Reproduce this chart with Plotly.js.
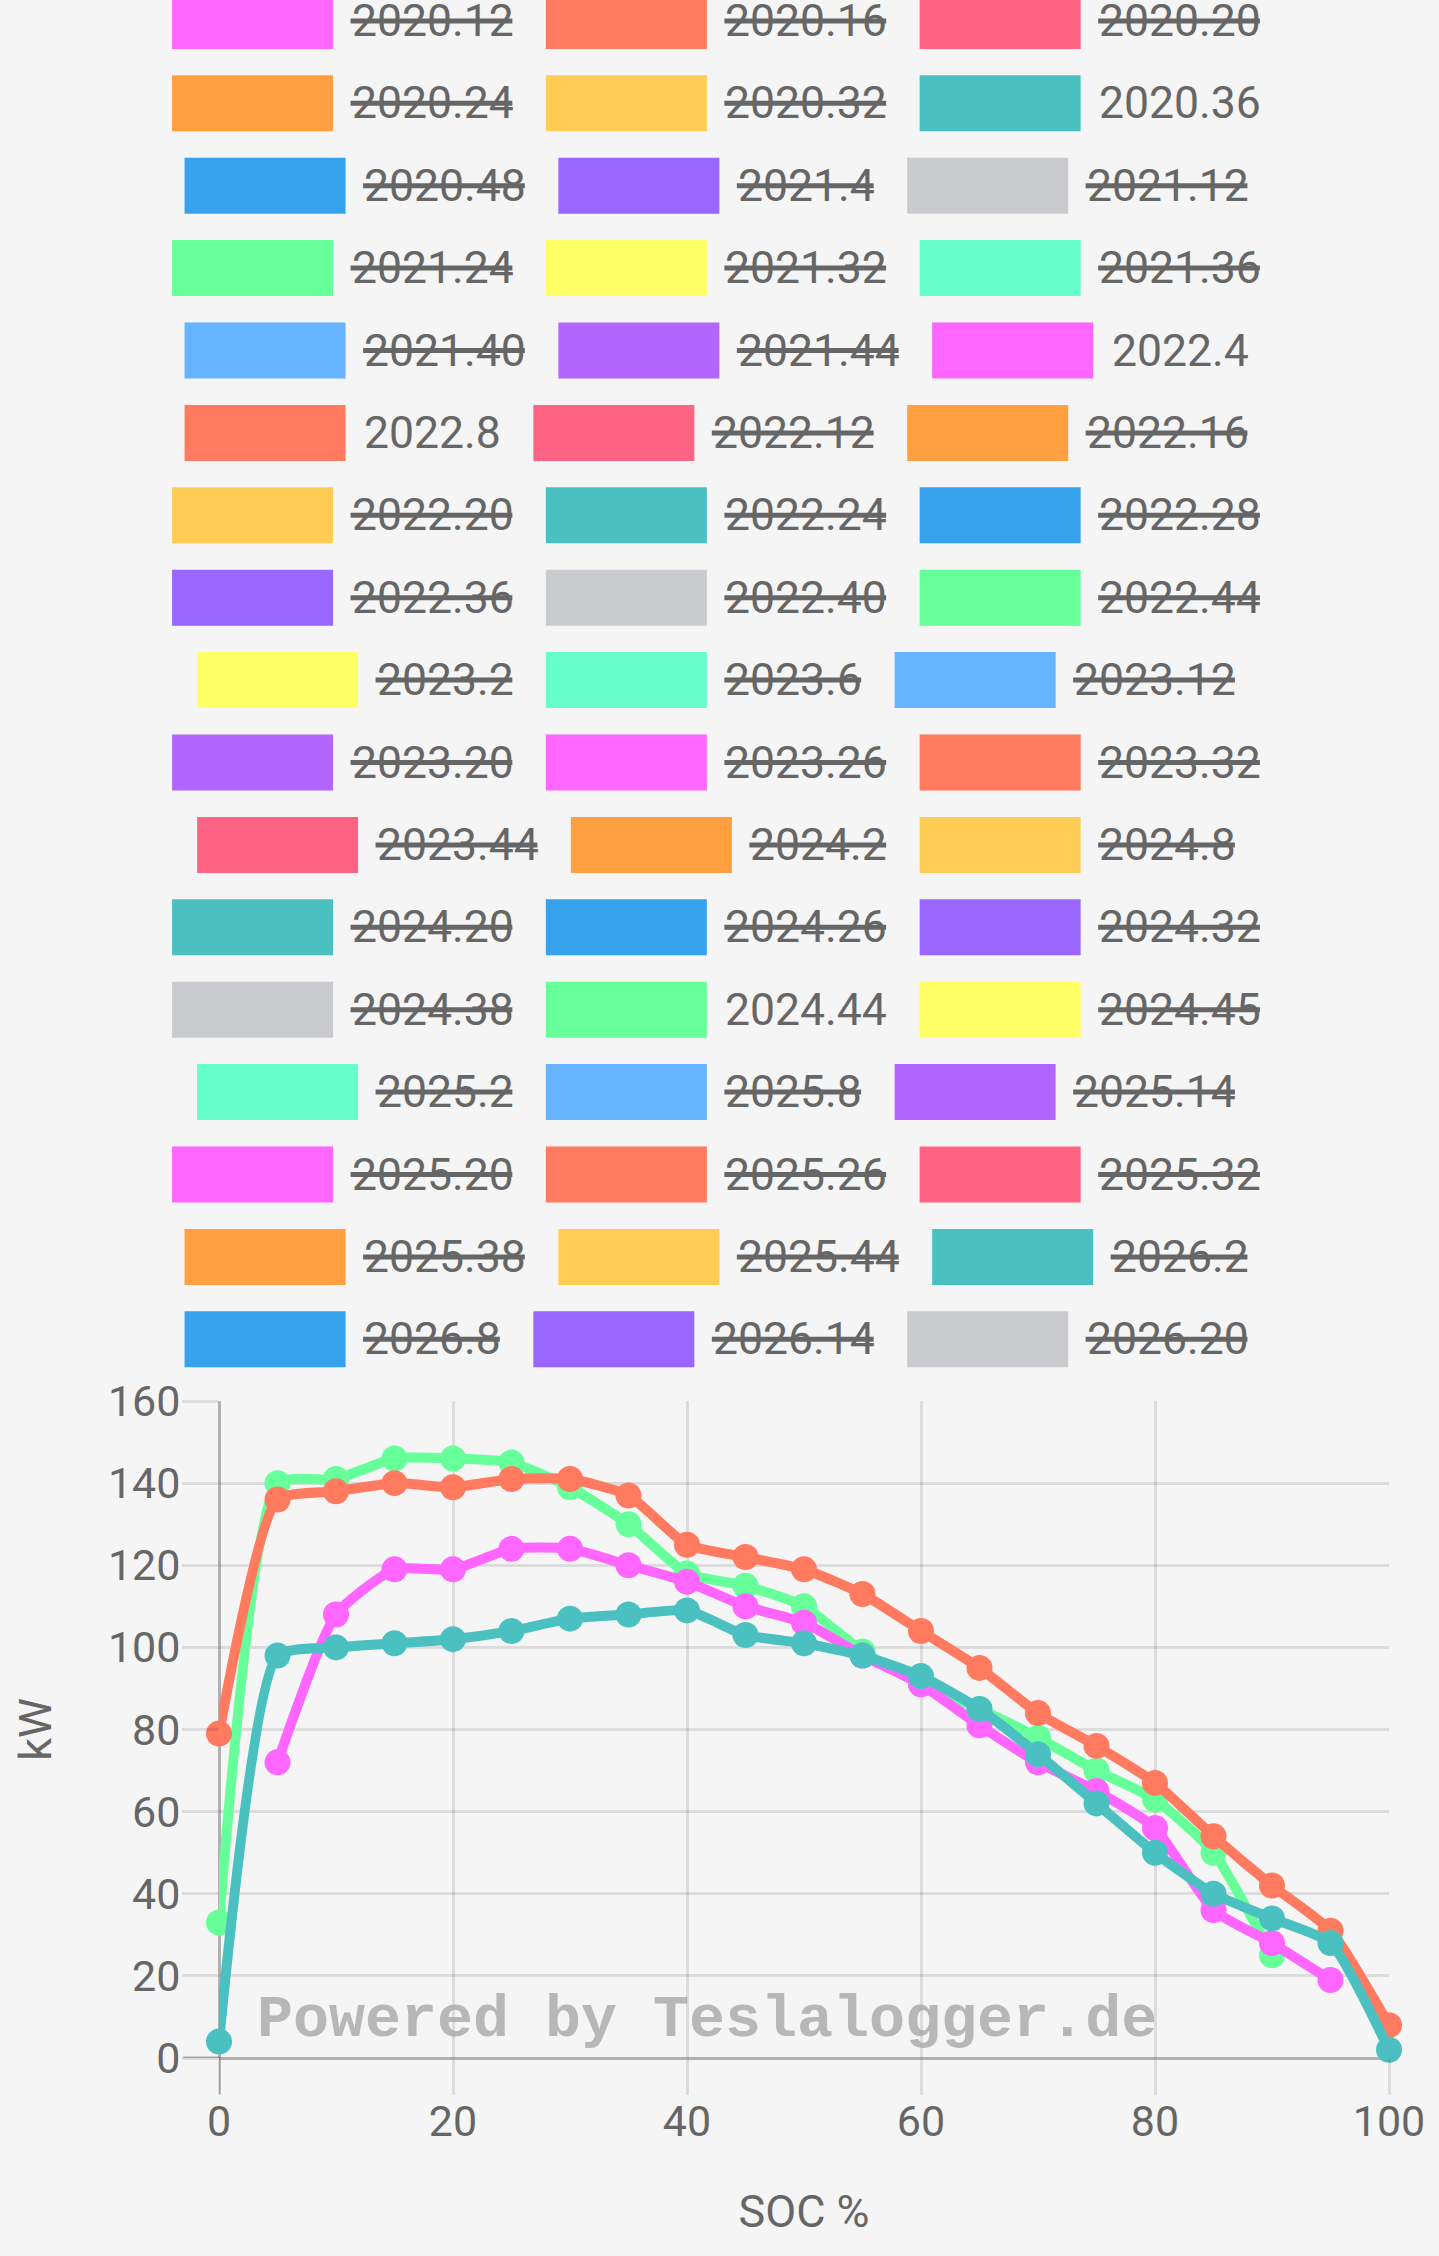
<!DOCTYPE html>
<html>
<head>
<meta charset="utf-8">
<script src="https://cdn.plot.ly/plotly-3.0.1.min.js"></script>
<style>
  html, body { margin: 0; padding: 0; background: #f5f5f5; }
  #chart { width: 1439px; height: 2256px; }
</style>
</head>
<body>
<div id="chart"></div>
<script>
// state of charge steps (x axis)
const socSteps = [0, 5, 10, 15, 20, 25, 30, 35, 40, 45, 50, 55, 60, 65, 70, 75, 80, 85, 90, 95, 100];

// legend entries, in dataset order
const labels = [
    '2020.12', '2020.16', '2020.20',
    '2020.24', '2020.32', '2020.36',
    '2020.48', '2021.4', '2021.12',
    '2021.24', '2021.32', '2021.36',
    '2021.40', '2021.44', '2022.4',
    '2022.8', '2022.12', '2022.16',
    '2022.20', '2022.24', '2022.28',
    '2022.36', '2022.40', '2022.44',
    '2023.2', '2023.6', '2023.12',
    '2023.20', '2023.26', '2023.32',
    '2023.44', '2024.2', '2024.8',
    '2024.20', '2024.26', '2024.32',
    '2024.38', '2024.44', '2024.45',
    '2025.2', '2025.8', '2025.14',
    '2025.20', '2025.26', '2025.32',
    '2025.38', '2025.44', '2026.2',
    '2026.8', '2026.14', '2026.20',
];

const palette = [
    '#ff66ff', '#ff7a5f', '#ff6384', '#ff9f40', '#ffcd56', '#4bc0c0', '#36a2eb',
    '#9966ff', '#c9cbcf', '#66ff99', '#ffff66', '#66ffcc', '#66b3ff', '#b366ff',
];

// only these datasets are switched on; the rest are struck through
const shownLabels = ['2020.36', '2022.4', '2022.8', '2024.44'];

// kW per SOC step; first value sits at socSteps[start]
const kw2020_36 = [4, 98, 100, 101, 102, 104, 107, 108, 109, 103, 101, 98, 93, 85, 74, 62, 50, 40, 34, 28, 2];
const kw2022_4 = [72, 108, 119, 119, 124, 124, 120, 116, 110, 106, 98, 91, 81, 72, 65, 56, 36, 28, 19];
const kw2022_8 = [79, 136, 138, 140, 139, 141, 141, 137, 125, 122, 119, 113, 104, 95, 84, 76, 67, 54, 42, 31, 8];
const kw2024_44 = [33, 140, 141, 146, 146, 145, 139, 130, 118, 115, 110, 99, 91, 85, 78, 70, 63, 50, 25];

const series = [
    { label: '2020.36', start: 0, kw: kw2020_36 },
    { label: '2022.4', start: 1, kw: kw2022_4 },
    { label: '2022.8', start: 0, kw: kw2022_8 },
    { label: '2024.44', start: 0, kw: kw2024_44 },
];

const W = 1439, H = 2256;
const M = { l: 219, r: 50, t: 1401, b: 198 };
const plotW = W - M.l - M.r, plotH = H - M.t - M.b;
const px2x = px => (px - M.l) / plotW;
const px2y = py => (H - M.b - py) / plotH;

const textColor = '#666666';
const colorOf = label => palette[labels.indexOf(label) % palette.length];

// chart.js draws the first dataset on top, so add them back to front
const traces = series.slice().reverse().map(s => ({
    x: socSteps.slice(s.start, s.start + s.kw.length),
    y: s.kw,
    name: s.label,
    type: 'scatter', mode: 'lines+markers',
    line: { color: colorOf(s.label), width: 10, shape: 'spline', smoothing: 0.55 },
    marker: { color: colorOf(s.label), size: 26 },
    cliponaxis: false,
    hoverinfo: 'skip',
}));

// hand-made legend, three per row, rows centred like chart.js does it
const shapes = [];
const annotations = [];
const ctx = document.createElement('canvas').getContext('2d');
const legFont = 44.5;
ctx.font = legFont + 'px Roboto';
const LEG = { box: 161, boxH: 56, textGap: 17.5, itemGap: 33.5, rowH: 82.4, firstRowY: 20.9, centerX: 716 };

for (let r = 0; r * 3 < labels.length; r++) {
    const row = labels.slice(r * 3, r * 3 + 3);
    const tw = row.map(t => ctx.measureText(t).width);
    const total = tw.reduce((a, w) => a + LEG.box + LEG.textGap + w, 0) + LEG.itemGap * (row.length - 1);
    let x = LEG.centerX - total / 2;
    const yc = LEG.firstRowY + r * LEG.rowH;
    row.forEach((lab, k) => {
        const col = colorOf(lab);
        shapes.push({
            type: 'rect', xref: 'paper', yref: 'paper',
            x0: px2x(x), x1: px2x(x + LEG.box),
            y0: px2y(yc - LEG.boxH / 2), y1: px2y(yc + LEG.boxH / 2),
            fillcolor: col, line: { width: 0 },
        });
        const tx = x + LEG.box + LEG.textGap;
        annotations.push({
            xref: 'paper', yref: 'paper', x: px2x(tx), y: px2y(yc),
            xanchor: 'left', yanchor: 'middle', showarrow: false, borderpad: 0,
            text: lab, font: { family: 'Roboto', size: legFont, color: textColor },
        });
        if (!shownLabels.includes(lab)) {
            shapes.push({
                type: 'line', xref: 'paper', yref: 'paper',
                x0: px2x(tx), x1: px2x(tx + tw[k]), y0: px2y(yc), y1: px2y(yc),
                line: { color: textColor, width: 5 },
            });
        }
        x = tx + tw[k] + LEG.itemGap;
    });
}

annotations.push({
    xref: 'paper', yref: 'paper', x: px2x(255), y: px2y(2020),
    xanchor: 'left', yanchor: 'middle', showarrow: false,
    text: '<b>Powered by Teslalogger.de</b>',
    font: { family: 'Liberation Mono', size: 60, color: '#a8a8a8' },
    opacity: 0.8,
});

// the zero lines reach out past the axes like their tick marks do
const darkGrid = 'rgba(0,0,0,0.28)';
shapes.push(
    { type: 'line', xref: 'x', yref: 'paper', x0: 0, x1: 0, y0: 0, y1: px2y(H - M.b + 36),
      line: { color: darkGrid, width: 3 } },
    { type: 'line', xref: 'paper', yref: 'y', x0: px2x(M.l - 36), x1: 0, y0: 0, y1: 0,
      line: { color: darkGrid, width: 3 } }
);

const axisCommon = {
    gridcolor: 'rgba(0,0,0,0.1)', gridwidth: 3,
    zerolinecolor: darkGrid, zerolinewidth: 3,
    ticks: 'outside', ticklen: 36, tickwidth: 3, tickcolor: 'rgba(0,0,0,0.1)',
    tickfont: { family: 'Roboto', size: 43, color: textColor },
    showline: false, fixedrange: true,
};

const layout = {
    width: W, height: H,
    margin: M,
    paper_bgcolor: '#f5f5f5',
    plot_bgcolor: '#f5f5f5',
    showlegend: false,
    font: { family: 'Roboto', color: textColor },
    xaxis: Object.assign({}, axisCommon, {
        range: [0, 100], dtick: 20, tick0: 0,
        ticklabelstandoff: -11,
        title: { text: 'SOC %', font: { family: 'Roboto', size: 45, color: textColor }, standoff: 50 },
    }),
    yaxis: Object.assign({}, axisCommon, {
        range: [0, 160], dtick: 20, tick0: 0,
        ticklabelstandoff: -7,
        title: { text: 'kW', font: { family: 'Roboto', size: 45, color: textColor }, standoff: 42 },
    }),
    shapes,
    annotations,
};

Plotly.newPlot('chart', traces, layout, { displayModeBar: false, staticPlot: true });
</script>
</body>
</html>
